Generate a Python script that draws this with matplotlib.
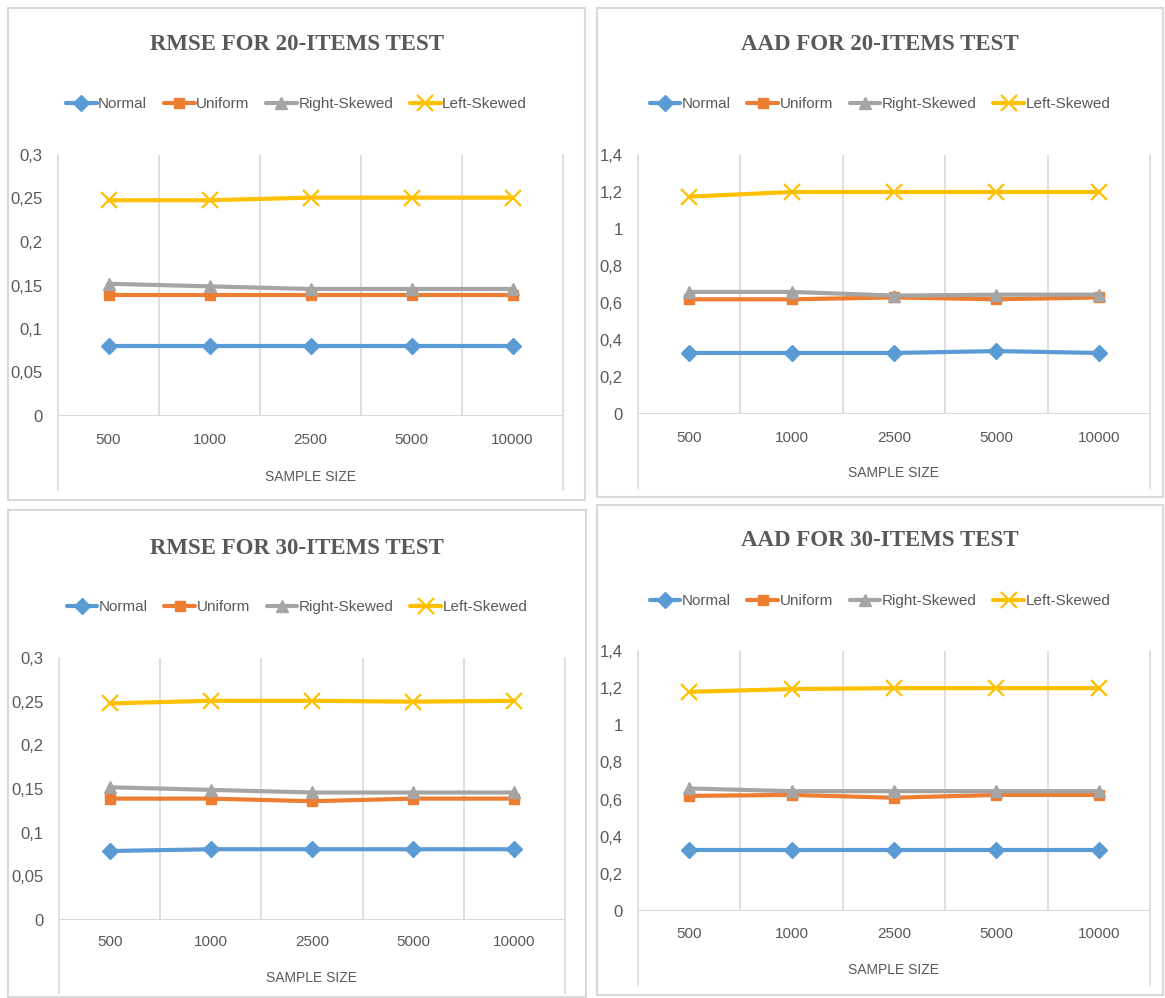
import matplotlib
matplotlib.use("Agg")
import matplotlib.pyplot as plt
from matplotlib.patches import Rectangle
from matplotlib.lines import Line2D

W, H = 1165, 998

sizes = ["500", "1000", "2500", "5000", "10000"]
series_names = ["Normal", "Uniform", "Right-Skewed", "Left-Skewed"]

rmse20_normal = [0.080, 0.080, 0.080, 0.080, 0.080]
rmse20_uniform = [0.139, 0.139, 0.139, 0.139, 0.139]
rmse20_right = [0.152, 0.149, 0.146, 0.146, 0.146]
rmse20_left = [0.248, 0.248, 0.251, 0.251, 0.251]

aad20_normal = [0.33, 0.33, 0.33, 0.34, 0.33]
aad20_uniform = [0.62, 0.62, 0.63, 0.62, 0.63]
aad20_right = [0.66, 0.66, 0.64, 0.645, 0.645]
aad20_left = [1.175, 1.2, 1.2, 1.2, 1.2]

rmse30_normal = [0.079, 0.081, 0.081, 0.081, 0.081]
rmse30_uniform = [0.139, 0.139, 0.136, 0.139, 0.139]
rmse30_right = [0.152, 0.149, 0.146, 0.146, 0.146]
rmse30_left = [0.248, 0.251, 0.251, 0.25, 0.251]

aad30_normal = [0.33, 0.33, 0.33, 0.33, 0.33]
aad30_uniform = [0.62, 0.625, 0.61, 0.625, 0.625]
aad30_right = [0.66, 0.645, 0.645, 0.645, 0.645]
aad30_left = [1.18, 1.195, 1.2, 1.2, 1.2]

rmse_ticks = [0, 0.05, 0.1, 0.15, 0.2, 0.25, 0.3]
rmse_ticklabels = ["0", "0,05", "0,1", "0,15", "0,2", "0,25", "0,3"]
aad_ticks = [0, 0.2, 0.4, 0.6, 0.8, 1.0, 1.2, 1.4]
aad_ticklabels = ["0", "0,2", "0,4", "0,6", "0,8", "1", "1,2", "1,4"]

colors = ["#5B9BD5", "#ED7D31", "#A5A5A5", "#FFC000"]
markers = ["D", "s", "^", "x"]
msizes = [8.5, 7, 8.5, 12]
text_col = "#595959"
grid_col = "#d9d9d9"
sans = ["Liberation Sans", "DejaVu Sans"]

fig = plt.figure(figsize=(W / 100, H / 100), dpi=100)


def fx(x):
    return x / W


def fy(y):
    return 1 - y / H


def panel(box, plot, title, title_y, leg_y, lab_y, xl_y, bottom, series, ticks, ticklabels):
    bx0, by0, bx1, by1 = box
    fig.patches.append(Rectangle((fx(bx0), fy(by1)), fx(bx1 - bx0), (by1 - by0) / H,
                                 transform=fig.transFigure, fill=False,
                                 edgecolor="#d9d9d9", lw=1.5))
    px0, py0, px1, py1 = plot
    ax = fig.add_axes([fx(px0), fy(py1), fx(px1 - px0), (py1 - py0) / H])
    xs = list(range(len(sizes)))
    for i, vals in enumerate(series):
        mew = 1.6 if markers[i] == "x" else 1
        ax.plot(xs, vals, color=colors[i], lw=3.0, marker=markers[i],
                ms=msizes[i], mew=mew, label=series_names[i], solid_capstyle="round")
    ax.set_xlim(-0.5, len(sizes) - 0.5)
    ax.set_ylim(ticks[0], ticks[-1])
    ax.set_yticks(ticks)
    ax.set_yticklabels(ticklabels, family=sans, fontsize=12, color=text_col)
    ax.set_xticks([])
    for s in ax.spines.values():
        s.set_visible(False)
    ax.tick_params(axis="y", length=0, pad=11)
    for b in [0.5, 1.5, 2.5, 3.5]:
        ax.axvline(b, color=grid_col, lw=1.2, zorder=0)
    ax.axhline(ticks[0], color=grid_col, lw=1.5, zorder=0)
    # outer edges of the category axis run down past the labels
    for xb in (px0, px1):
        fig.add_artist(Line2D([fx(xb), fx(xb)], [fy(py0), fy(bottom)],
                              color=grid_col, lw=1.2))
    for i, s in enumerate(sizes):
        xc = px0 + (px1 - px0) * (i + 0.5) / len(sizes)
        fig.text(fx(xc), fy(lab_y), s, ha="center", va="center", family=sans,
                 fontsize=11, color=text_col)
    fig.text(fx((px0 + px1) / 2), fy(xl_y), "SAMPLE SIZE", ha="center",
             va="center", family=sans, fontsize=10, color=text_col)
    fig.text(fx((bx0 + bx1) / 2), fy(title_y), title, ha="center", va="center",
             family="Liberation Serif", fontweight="bold", fontsize=16.5, color=text_col)
    ax.legend(loc="center", bbox_to_anchor=(fx((bx0 + bx1) / 2), fy(leg_y)),
              bbox_transform=fig.transFigure, ncol=4, frameon=False,
              prop={"family": sans, "size": 11}, handlelength=2.0,
              handletextpad=0.1, columnspacing=1.1, labelcolor=text_col,
              borderpad=0)
    return ax


panel((8, 8, 585, 500), (58, 155, 563, 416), "RMSE FOR 20-ITEMS TEST", 44, 104, 440, 477, 490,
      [rmse20_normal, rmse20_uniform, rmse20_right, rmse20_left], rmse_ticks, rmse_ticklabels)
panel((597, 8, 1163, 497), (638, 155, 1150, 414), "AAD FOR 20-ITEMS TEST", 44, 104, 438, 473, 488,
      [aad20_normal, aad20_uniform, aad20_right, aad20_left], aad_ticks, aad_ticklabels)
panel((8, 510, 586, 997), (59, 658, 565, 920), "RMSE FOR 30-ITEMS TEST", 548, 607, 942, 978, 993,
      [rmse30_normal, rmse30_uniform, rmse30_right, rmse30_left], rmse_ticks, rmse_ticklabels)
panel((597, 505, 1163, 995), (638, 651, 1150, 911), "AAD FOR 30-ITEMS TEST", 541, 601, 934, 970, 985,
      [aad30_normal, aad30_uniform, aad30_right, aad30_left], aad_ticks, aad_ticklabels)

fig.savefig("out.png", dpi=100)
